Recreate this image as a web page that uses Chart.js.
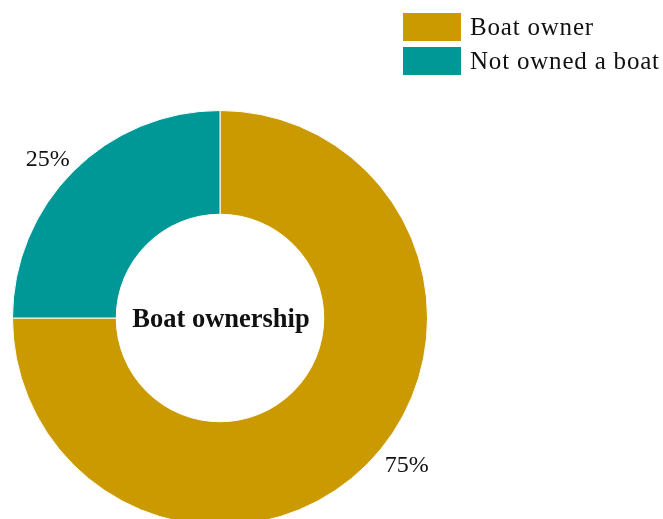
<!DOCTYPE html>
<html>
<head>
<meta charset="utf-8">
<script src="https://cdn.jsdelivr.net/npm/chart.js@4/dist/chart.umd.min.js"></script>
<style>
    html, body { margin: 0; padding: 0; background: #fff; overflow: hidden; }
    #wrap { position: absolute; left: 0; top: 0; width: 663px; height: 540px; }
    #legend { position: absolute; left: 403px; top: 13px; font-family: "Liberation Serif", "Times New Roman", serif; font-size: 25px; letter-spacing: 0.8px; color: #111; }
    .row { display: flex; align-items: center; height: 28px; margin-bottom: 5.5px; }
    .sw { width: 58px; height: 28px; margin-right: 9px; }
</style>
</head>
<body>
<div id="wrap"><canvas id="ownership"></canvas></div>
<div id="legend"></div>
<script>
// Boat ownership share
const categories = ['Boat owner', 'Not owned a boat'];
const shares = [75, 25];
const colors = ['#CB9A00', '#009797'];
const centerTitle = 'Boat ownership';

// legend
const legend = document.getElementById('legend');
categories.forEach((name, i) => {
    const row = document.createElement('div');
    row.className = 'row';
    row.innerHTML = '<div class="sw" style="background:' + colors[i] + '"></div><span>' + name + '</span>';
    legend.appendChild(row);
});

// percentage labels outside each slice + title in the hole
const labelPlugin = {
    id: 'sliceLabels',
    afterDraw(chart) {
        const ctx = chart.ctx;
        const meta = chart.getDatasetMeta(0);
        const nudges = [[19.5, -19.5], [-5, 9]];
        ctx.save();
        ctx.fillStyle = '#111';
        ctx.textAlign = 'center';
        ctx.textBaseline = 'middle';
        ctx.font = '24px "Liberation Serif", "Times New Roman", serif';
        meta.data.forEach((arc, i) => {
            const mid = (arc.startAngle + arc.endAngle) / 2;
            const r = arc.outerRadius + 29;
            const x = arc.x + Math.cos(mid) * r + nudges[i][0];
            const y = arc.y + Math.sin(mid) * r + nudges[i][1];
            ctx.fillText(shares[i] + '%', x, y);
        });
        const c = meta.data[0];
        ctx.font = 'bold 26.5px "Liberation Serif", "Times New Roman", serif';
        ctx.fillText(centerTitle, c.x + 1, c.y + 2);
        ctx.restore();
    }
};

new Chart(document.getElementById('ownership').getContext('2d'), {
    type: 'doughnut',
    data: {
        labels: categories,
        datasets: [{
            data: shares,
            backgroundColor: colors,
            borderColor: '#fff',
            borderWidth: 1
        }]
    },
    options: {
        responsive: true,
        maintainAspectRatio: false,
        animation: false,
        cutout: '50%',
        layout: { padding: { left: 12, top: 110, right: 235, bottom: 14 } },
        plugins: { legend: { display: false }, tooltip: { enabled: false } }
    },
    plugins: [labelPlugin]
});
</script>
</body>
</html>
